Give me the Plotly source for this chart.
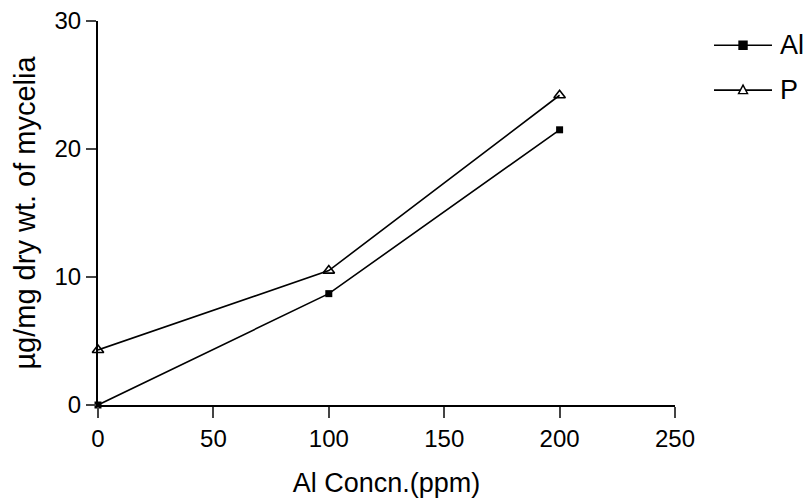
import plotly.graph_objects as go

conc = [0, 100, 200]
al_vals = [0.0, 8.7, 21.5]
p_vals = [4.3, 10.5, 24.2]
series_names = ["Al", "P"]
x_ticks = [0, 50, 100, 150, 200, 250]
y_ticks = [0, 10, 20, 30]

FONT = "Liberation Sans, Arial, sans-serif"

fig = go.Figure()
fig.add_trace(go.Scatter(
    x=conc, y=al_vals, name=series_names[0], mode="lines+markers",
    line=dict(color="black", width=1.6),
    marker=dict(symbol="square", size=7, color="black"),
    cliponaxis=False, showlegend=False,
))
fig.add_trace(go.Scatter(
    x=conc, y=p_vals, name=series_names[1], mode="lines+markers",
    line=dict(color="black", width=1.6),
    marker=dict(symbol="triangle-up-open", size=10, color="black", line=dict(width=1.6)),
    cliponaxis=False, showlegend=False,
))

# manual legend (style only)
leg_y = [0.937, 0.820]
leg_x0, leg_x1, leg_xm, leg_tx = 1.0676, 1.1681, 1.1179, 1.1785
marker_paths = ["M-4,-4 L4,-4 L4,4 L-4,4 Z", "M-4.5,-3.5 L4.5,-3.5 L0,5 Z"]
marker_fill = ["black", "white"]
for name, yy, mp, mf in zip(series_names, leg_y, marker_paths, marker_fill):
    fig.add_shape(type="line", xref="paper", yref="paper", x0=leg_x0, x1=leg_x1,
                  y0=yy, y1=yy, line=dict(color="black", width=1.6))
    fig.add_shape(type="path", xref="paper", yref="paper", xsizemode="pixel",
                  ysizemode="pixel", xanchor=leg_xm, yanchor=yy, path=mp,
                  fillcolor=mf, line=dict(color="black", width=1.4))
    fig.add_annotation(xref="paper", yref="paper", x=leg_tx, y=yy, text=name,
                       showarrow=False, xanchor="left", yanchor="middle",
                       font=dict(size=27, family=FONT, color="black"))

fig.update_layout(
    width=810, height=501,
    margin=dict(l=98, r=135, t=21, b=96),
    paper_bgcolor="white", plot_bgcolor="white",
    font=dict(family=FONT, size=24, color="black"),
    showlegend=False,
    xaxis=dict(range=[0, 250], tickvals=x_ticks, ticks="outside", ticklen=11,
               tickwidth=1.8, showline=True, linewidth=2, linecolor="black",
               showgrid=False, zeroline=False, automargin=False,
               title=dict(text="Al Concn.(ppm)", font=dict(size=27), standoff=22),
               tickfont=dict(size=24)),
    yaxis=dict(range=[0, 30], tickvals=y_ticks, ticks="outside", ticklen=10,
               tickwidth=1.8, showline=True, linewidth=2, linecolor="black",
               showgrid=False, zeroline=False, automargin=False,
               title=dict(text="µg/mg dry wt. of mycelia", font=dict(size=29), standoff=10),
               tickfont=dict(size=24)),
)

fig.write_html("out.html")
